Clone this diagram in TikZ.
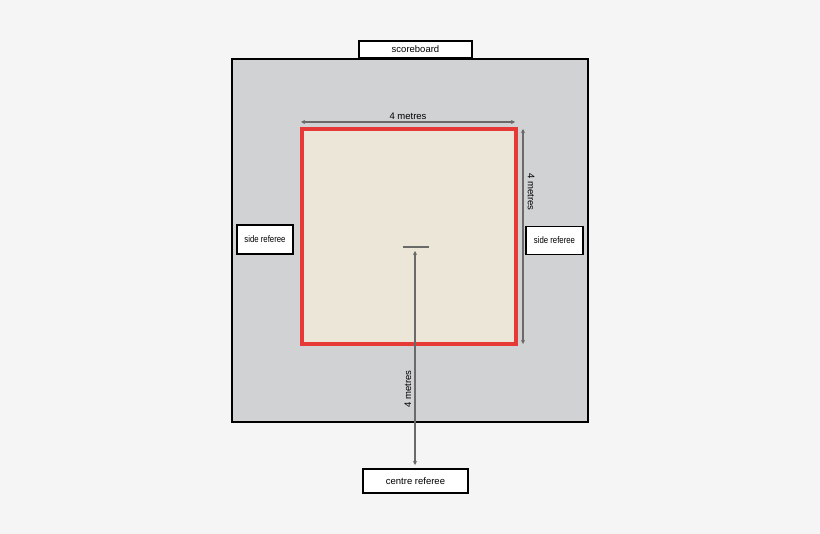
\documentclass[tikz,border=0pt]{standalone}
\usepackage{fontspec}
\setmainfont{Liberation Sans}
\newfontfamily\narrowfont[FakeStretch=0.82]{Liberation Sans}
\usetikzlibrary{arrows.meta,positioning}
\definecolor{paperbg}{HTML}{F5F5F5}
\definecolor{floorgray}{HTML}{D1D2D4}
\definecolor{matbeige}{HTML}{ECE6D8}
\definecolor{matred}{HTML}{E53A35}
\definecolor{dimgray}{HTML}{6A6A6A}
\tikzset{
    refbox/.style={draw=black, fill=white, line width=1.4pt, inner sep=0pt,
        font={\fontsize{9.5}{11}\selectfont}},
    sidebox/.style={refbox, font={\narrowfont\fontsize{9.5}{11}\selectfont}},
    dimline/.style={draw=dimgray, line width=1.2pt,
        {Stealth[length=4pt,width=4pt]}-{Stealth[length=4pt,width=4pt]}},
    dimlabel/.style={font={\fontsize{9.5}{11}\selectfont}, inner sep=1.5pt}
}
\begin{document}
\begin{tikzpicture}[x=1pt, y=-1pt]
    \fill[paperbg] (0,0) rectangle (820,534);
    % competition area and mat
    \draw[fill=floorgray, line width=1.4pt] (232,59) rectangle (588,422);
    \draw[fill=matbeige, draw=matred, line width=3.5pt] (302,129) rectangle (516,344);
    % referees and scoreboard
    \node[refbox, minimum width=113pt, minimum height=17pt] (scoreboard) at (415.5,49.5) {scoreboard};
    \node[sidebox, minimum width=56pt, minimum height=29pt] (sideL) at (265,239.5) {side referee};
    \node[sidebox, minimum width=57pt, minimum height=28pt] (sideR) at (554.5,240.5) {side referee};
    \node[refbox, minimum width=105pt, minimum height=24pt] (centre) at (415.5,481) {centre referee};
    % measures
    \coordinate (topL) at (301,122);
    \coordinate (topR) at (515,122);
    \coordinate (rightT) at (523,129);
    \coordinate (rightB) at (523,344);
    \coordinate (markL) at (403,247);
    \coordinate (markR) at (429,247);
    \coordinate (markC) at (415,251);
    \coordinate (centreT) at (415,465);
    \draw[dimline] (topL) -- node[dimlabel, above]{4 metres} (topR);
    \draw[dimline] (rightT) -- (rightB);
    \node[dimlabel, rotate=-90] (rightlabel) at (531,192) {4 metres};
    \draw[draw=dimgray, line width=1.4pt] (markL) -- (markR);
    \draw[dimline] (markC) -- (centreT);
    \node[dimlabel, rotate=90] (centrelabel) at (408,389) {4 metres};
\end{tikzpicture}
\end{document}
